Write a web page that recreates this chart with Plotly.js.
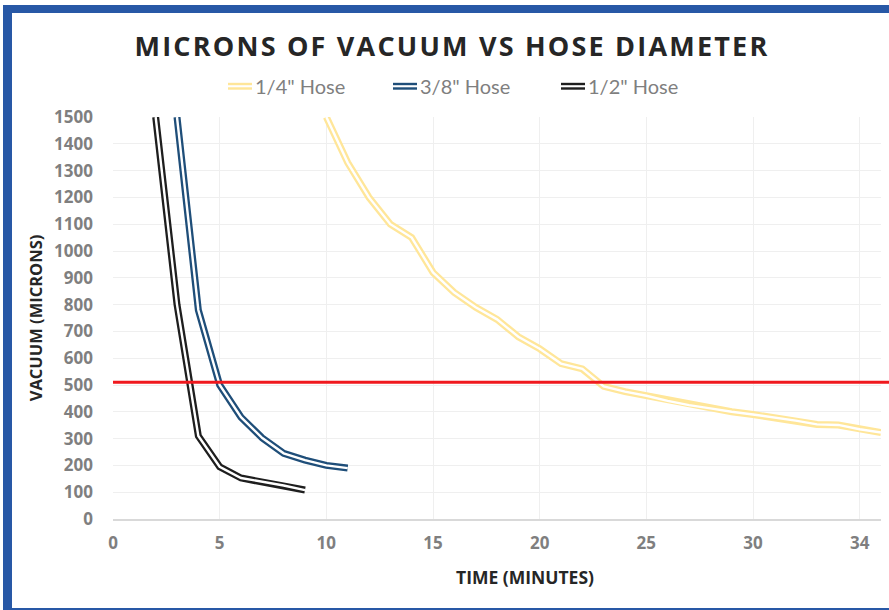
<!DOCTYPE html>
<html>
<head>
<meta charset="utf-8">
<script src="https://cdn.plot.ly/plotly-3.0.1.min.js"></script>
<style>
  html, body { margin: 0; padding: 0; background: #fff; }
  #chart { width: 889px; height: 610px; }
  .gtitle { letter-spacing: 2.2px; }
</style>
</head>
<body>
<div id="chart"></div>
<script>
// ---- data ----
const seriesNames = ['1/4" Hose', '3/8" Hose', '1/2" Hose'];
const quarterTime = [10,11,12,13,14,15,16,17,18,19,20,21,22,23,24,25,26,27,28,29,30,31,32,33,34,35,36];
const quarterVac  = [1500,1330,1200,1100,1050,920,845,790,745,680,635,580,560,495,475,460,441,425,413,400,390,379,367,353,351,335,323];
const threeEighthTime = [3,4,5,6,7,8,9,10,11];
const threeEighthVac  = [1500,780,500,380,302,245,220,200,190];
const halfTime = [2,3,4,5,6,7,8,9];
const halfVac  = [1500,800,310,195,153,140,125,108];
const threshold = 510;
const xTickVals = [0,5,10,15,20,25,30,35];
const xTickText = ['0','5','10','15','20','25','30','34'];
const colors = ['#FFE699', '#1F4E79', '#1E1E1E'];

// ---- geometry helpers (plot area in pixels) ----
const W = 889, H = 610;
const L = 113, R = 881, T = 117, B = 519;
const px = X => (X - L) / (R - L);
const py = Y => (B - Y) / (B - T);

function doubleLine(x, y, color, name) {
  return [
    {x: x, y: y, mode: 'lines', name: name, showlegend: false, hoverinfo: 'skip',
     line: {color: color, width: 7}},
    {x: x, y: y, mode: 'lines', name: name + ' inner', showlegend: false, hoverinfo: 'skip',
     line: {color: '#ffffff', width: 2.4}}
  ];
}

const data = [].concat(
  doubleLine(quarterTime, quarterVac, colors[0], seriesNames[0]),
  doubleLine(threeEighthTime, threeEighthVac, colors[1], seriesNames[1]),
  doubleLine(halfTime, halfVac, colors[2], seriesNames[2])
);

const shapes = [
  // threshold line
  {type: 'line', xref: 'paper', yref: 'y', x0: 0, x1: px(889), y0: threshold, y1: threshold,
   line: {color: '#F0191E', width: 3}},
  // frame
  {type: 'rect', xref: 'paper', yref: 'paper', x0: px(3), x1: px(889), y0: py(5), y1: py(13),
   fillcolor: '#2858A6', line: {width: 0}, layer: 'above'},
  {type: 'rect', xref: 'paper', yref: 'paper', x0: px(3), x1: px(12), y0: py(5), y1: py(610),
   fillcolor: '#2858A6', line: {width: 0}, layer: 'above'},
  {type: 'rect', xref: 'paper', yref: 'paper', x0: px(3), x1: px(889), y0: py(608), y1: py(610),
   fillcolor: '#2858A6', line: {width: 0}, layer: 'above'}
];

// custom legend with double-line symbols
const legendX = [228, 393, 561];
const legendY = 86;
const annotations = [];
seriesNames.forEach((n, i) => {
  const x0 = legendX[i], x1 = legendX[i] + 24;
  shapes.push({type: 'line', xref: 'paper', yref: 'paper', x0: px(x0), x1: px(x1),
    y0: py(legendY - 2), y1: py(legendY - 2), line: {color: colors[i], width: 2.4}});
  shapes.push({type: 'line', xref: 'paper', yref: 'paper', x0: px(x0), x1: px(x1),
    y0: py(legendY + 2.5), y1: py(legendY + 2.5), line: {color: colors[i], width: 2.4}});
  annotations.push({xref: 'paper', yref: 'paper', x: px(x1 + 1), y: py(legendY), text: n,
    showarrow: false, xanchor: 'left', yanchor: 'middle',
    font: {family: 'Lato', size: 20, color: '#7F7F7F'}});
});

// x-axis title (offset to the right like the reference)
annotations.push({xref: 'paper', yref: 'paper', x: px(525), y: py(577), text: 'TIME (MINUTES)',
  showarrow: false, xanchor: 'center', yanchor: 'middle',
  font: {family: 'Open Sans', size: 17.5, color: '#262626', weight: 'bold'}});

const layout = {
  width: W, height: H,
  margin: {l: L, r: W - R, t: T, b: H - B},
  paper_bgcolor: '#ffffff', plot_bgcolor: '#ffffff',
  showlegend: false,
  title: {text: 'MICRONS OF VACUUM VS HOSE DIAMETER', xref: 'container', yref: 'container',
    x: 452 / W, y: 1 - 47 / H, xanchor: 'center', yanchor: 'middle',
    font: {family: 'Open Sans', size: 27, color: '#262626', weight: 'bold'}},
  xaxis: {range: [0, 36], tickvals: xTickVals, ticktext: xTickText,
    showgrid: true, gridcolor: '#EFEFEF', gridwidth: 1, zeroline: false,
    showline: true, linecolor: '#D9D9D9', linewidth: 2, ticks: '',
    ticklabelstandoff: 8,
    tickfont: {family: 'Open Sans', size: 17, color: '#7F7F7F', weight: 'bold'}},
  yaxis: {range: [0, 1500], dtick: 100, tick0: 0,
    showgrid: true, gridcolor: '#EFEFEF', gridwidth: 1, zeroline: false,
    showline: false, ticks: '', ticklabelstandoff: 19,
    tickfont: {family: 'Open Sans', size: 17, color: '#7F7F7F', weight: 'bold'},
    title: {text: 'VACUUM (MICRONS)', standoff: 7,
      font: {family: 'Open Sans', size: 16.5, color: '#262626', weight: 'bold'}}},
  shapes: shapes,
  annotations: annotations
};

Plotly.newPlot('chart', data, layout, {staticPlot: true, displayModeBar: false});
</script>
</body>
</html>
